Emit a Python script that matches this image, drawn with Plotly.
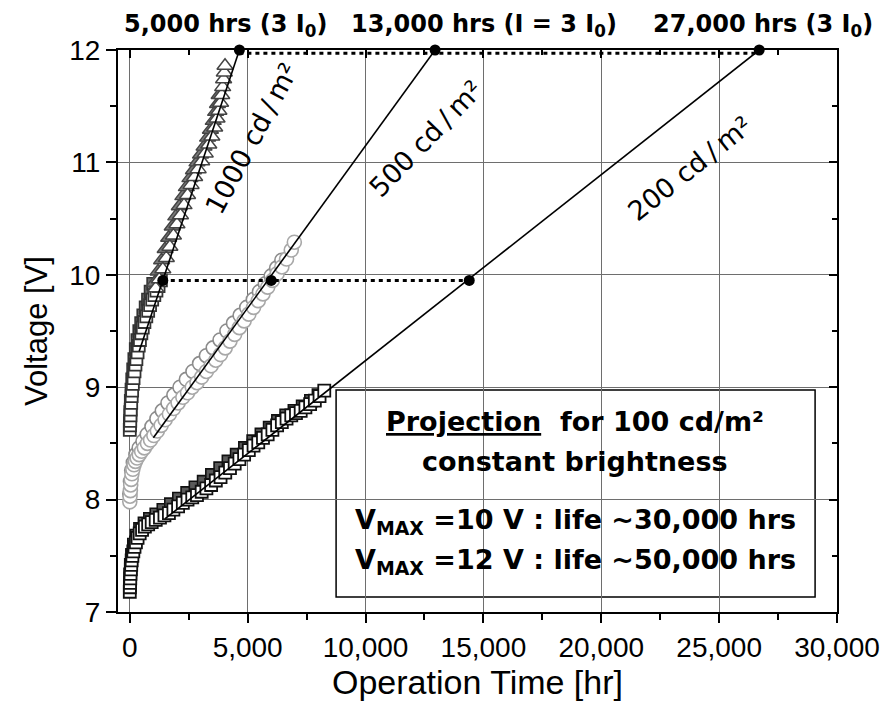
import plotly.graph_objects as go

# ---------------- data ----------------
# 1000 cd/m2 – lower part (squares)
t1000_sq = [0, 10, 20, 30, 40, 60, 80, 100, 130, 160, 200, 240, 280, 330, 380, 430, 490, 550,
            620, 700, 780, 860, 950, 1040, 1130, 1220, 1320]
v1000_sq = [8.62, 8.66, 8.70, 8.75, 8.80, 8.86, 8.92, 8.97, 9.03, 9.08, 9.14, 9.20, 9.25, 9.31,
            9.37, 9.42, 9.48, 9.53, 9.58, 9.63, 9.68, 9.73, 9.78, 9.82, 9.86, 9.90, 9.95]
# 1000 cd/m2 – second sample, lower part (grey squares)
t1000_sq2 = [0, 20, 40, 70, 100, 140, 190, 250, 320, 400, 480, 570, 670, 770, 880, 990]
v1000_sq2 = [8.68, 8.78, 8.88, 8.98, 9.07, 9.16, 9.25, 9.34, 9.42, 9.50, 9.57, 9.64, 9.71, 9.78,
             9.85, 9.92]
# 1000 cd/m2 – upper part (open triangles)
t1000_tri = [1100, 1250, 1400, 1550, 1700, 1850, 2000, 2150, 2300, 2450, 2600, 2750, 2900, 3050,
             3200, 3350, 3480, 3600, 3700, 3780, 3850, 3900, 3940, 3980, 4010, 4040]
v1000_tri = [9.88, 9.96, 10.05, 10.15, 10.25, 10.35, 10.45, 10.53, 10.62, 10.71, 10.80, 10.87,
             10.94, 11.01, 11.08, 11.16, 11.23, 11.31, 11.39, 11.46, 11.53, 11.60, 11.67, 11.74,
             11.80, 11.86]
# 1000 cd/m2 – second sample (grey filled triangles)
t1000_tri2 = [1050, 1200, 1350, 1500, 1650, 1800, 1950, 2100, 2250, 2400, 2550, 2700, 2850,
              3000, 3150, 3300, 3420, 3540, 3640, 3720, 3790]
v1000_tri2 = [9.93, 10.03, 10.13, 10.23, 10.33, 10.43, 10.52, 10.61, 10.70, 10.78, 10.86, 10.93,
              11.00, 11.07, 11.14, 11.22, 11.29, 11.37, 11.45, 11.52, 11.60]

# 500 cd/m2 (light grey open circles)
t500 = [0, 10, 25, 40, 60, 90, 130, 180, 240, 310, 400, 500, 620, 750, 880, 1020, 1170, 1330,
        1500, 1680, 1860, 2050, 2250, 2450, 2650, 2850, 3050, 3250, 3450, 3650, 3850, 4050, 4250,
        4450, 4650, 4850, 5050, 5250, 5450, 5650, 5850, 6050, 6250, 6450, 6650, 6850, 6980]
v500 = [7.98, 8.03, 8.08, 8.13, 8.18, 8.23, 8.27, 8.31, 8.34, 8.37, 8.40, 8.43, 8.46, 8.50, 8.53,
        8.57, 8.61, 8.66, 8.71, 8.76, 8.81, 8.86, 8.91, 8.95, 9.00, 9.04, 9.09, 9.14, 9.19, 9.24,
        9.29, 9.35, 9.41, 9.47, 9.53, 9.59, 9.65, 9.71, 9.77, 9.83, 9.89, 9.95, 10.01, 10.07,
        10.14, 10.22, 10.29]
# 500 cd/m2 – second sample (slightly darker circles, left edge of the band)
t500b = [0, 30, 80, 150, 260, 400, 560, 740, 940, 1150, 1380, 1620, 1870, 2130, 2400, 2680, 2960,
         3250, 3540, 3830, 4120, 4400, 4680, 4960, 5240, 5500, 5750, 6000, 6230, 6450]
v500b = [8.05, 8.16, 8.26, 8.33, 8.40, 8.46, 8.52, 8.58, 8.65, 8.72, 8.79, 8.86, 8.93, 9.00,
         9.07, 9.14, 9.21, 9.28, 9.35, 9.42, 9.50, 9.57, 9.64, 9.71, 9.78, 9.85, 9.92, 9.99,
         10.06, 10.13]

# 200 cd/m2 (black open squares)
t200 = [0, 5, 10, 20, 30, 45, 60, 80, 110, 150, 200, 260, 330, 420, 520, 640, 780, 930, 1100,
        1280, 1470, 1660, 1850, 2050, 2250, 2450, 2650, 2850, 3050, 3250, 3450, 3650, 3850, 4050,
        4250, 4450, 4650, 4850, 5050, 5250, 5450, 5650, 5850, 6050, 6250, 6450, 6650, 6850, 7050,
        7250, 7450, 7650, 7850, 8050, 8250]
v200 = [7.18, 7.22, 7.26, 7.30, 7.34, 7.38, 7.42, 7.46, 7.50, 7.54, 7.58, 7.62, 7.66, 7.70, 7.73,
        7.76, 7.78, 7.80, 7.82, 7.84, 7.86, 7.88, 7.91, 7.94, 7.97, 8.00, 8.02, 8.04, 8.07, 8.10,
        8.13, 8.17, 8.20, 8.24, 8.28, 8.32, 8.36, 8.40, 8.44, 8.48, 8.51, 8.55, 8.58, 8.62, 8.66,
        8.69, 8.72, 8.75, 8.77, 8.79, 8.82, 8.85, 8.88, 8.92, 8.97]
# 200 cd/m2 – second sample (dark grey filled squares)
t200b = [0, 15, 40, 90, 170, 280, 430, 620, 850, 1120, 1420, 1740, 2080, 2430, 2780, 3130, 3480,
         3830, 4180, 4530, 4880, 5230, 5580, 5930, 6280, 6630, 6980, 7330, 7680, 8000]
v200b = [7.24, 7.33, 7.42, 7.51, 7.60, 7.68, 7.74, 7.79, 7.83, 7.87, 7.91, 7.96, 8.01, 8.06,
         8.11, 8.16, 8.22, 8.28, 8.34, 8.40, 8.46, 8.52, 8.58, 8.64, 8.70, 8.75, 8.79, 8.83,
         8.88, 8.93]

# linear projections (start, end)
fit1000_t = [400, 4650]
fit1000_v = [9.32, 12.0]
fit500_t = [1000, 12950]
fit500_v = [8.55, 12.0]
fit200_t = [1500, 26700]
fit200_v = [7.83, 12.0]

# projection points
vmax12_t = [4650, 12950, 26700]
vmax12_v = [12.0, 12.0, 12.0]
vmax10_t = [1400, 6000, 14400]
vmax10_v = [9.95, 9.95, 9.95]
dotted12_t = [4650, 26700]
dotted12_v = [11.97, 11.97]
dotted10_t = [1400, 14400]
dotted10_v = [9.95, 9.95]

top_labels = ["5,000 hrs (3 I<sub>0</sub>)", "13,000 hrs (I = 3 I<sub>0</sub>)",
              "27,000 hrs (3 I<sub>0</sub>)"]
curve_labels = ["1000 cd\u2009/\u2009m²", "500 cd\u2009/\u2009m²", "200 cd\u2009/\u2009m²"]
box_lines = ["<u>Projection</u>\u00a0 for 100 cd/m²", "constant brightness",
             "V<sub>MAX</sub> =10 V : life ~30,000 hrs",
             "V<sub>MAX</sub> =12 V : life ~50,000 hrs"]

# ---------------- figure ----------------
# the page body has an 8 px margin, so the figure is 8 px smaller and its
# margins are expressed so that the plot area lands on page px 118..840 / 50..612
OFF = 8
W, H = 892 - OFF, 708 - OFF
L, T = 118 - OFF, 50 - OFF
R = W - (840 - OFF)
B = H - (612 - OFF)
PW, PH = W - L - R, H - T - B


def px(xp):   # page x pixel -> paper
    return (xp - OFF - L) / PW


def py(yp):   # page y pixel -> paper
    return (H - B - (yp - OFF)) / PH


fig = go.Figure()

fig.add_trace(go.Scatter(x=t200b, y=v200b, mode="markers",
                         marker=dict(symbol="square", size=12, color="#5a5a5a",
                                     line=dict(color="#111", width=1.6))))
fig.add_trace(go.Scatter(x=t200, y=v200, mode="markers",
                         marker=dict(symbol="square", size=12, color="white",
                                     line=dict(color="#111", width=1.8))))
fig.add_trace(go.Scatter(x=t500b, y=v500b, mode="markers",
                         marker=dict(symbol="circle", size=14, color="white",
                                     line=dict(color="#8c8c8c", width=1.6))))
fig.add_trace(go.Scatter(x=t500, y=v500, mode="markers",
                         marker=dict(symbol="circle", size=14, color="white",
                                     line=dict(color="#a8a8a8", width=1.6))))
fig.add_trace(go.Scatter(x=t1000_sq2, y=v1000_sq2, mode="markers",
                         marker=dict(symbol="square", size=12, color="#6a6a6a",
                                     line=dict(color="#333", width=1.6))))
fig.add_trace(go.Scatter(x=t1000_sq, y=v1000_sq, mode="markers",
                         marker=dict(symbol="square", size=12, color="white",
                                     line=dict(color="#333", width=1.8))))
fig.add_trace(go.Scatter(x=t1000_tri2, y=v1000_tri2, mode="markers",
                         marker=dict(symbol="triangle-up", size=14, color="#7a7a7a",
                                     line=dict(color="#444", width=1.4))))
fig.add_trace(go.Scatter(x=t1000_tri, y=v1000_tri, mode="markers",
                         marker=dict(symbol="triangle-up", size=14, color="white",
                                     line=dict(color="#444", width=1.5))))

for tt, vv in [(fit1000_t, fit1000_v), (fit500_t, fit500_v), (fit200_t, fit200_v)]:
    fig.add_trace(go.Scatter(x=tt, y=vv, mode="lines", line=dict(color="black", width=1.6)))

for tt, vv in [(dotted12_t, dotted12_v), (dotted10_t, dotted10_v)]:
    fig.add_trace(go.Scatter(x=tt, y=vv, mode="lines",
                             line=dict(color="black", width=3, dash="4px,4px")))

fig.add_trace(go.Scatter(x=vmax12_t + vmax10_t, y=vmax12_v + vmax10_v, mode="markers",
                         cliponaxis=False,
                         marker=dict(symbol="circle", size=11, color="black")))

# helper trace for mirrored (inside-tick) top / right axes
fig.add_trace(go.Scatter(x=[None], y=[None], xaxis="x2", yaxis="y2", mode="markers"))

tickfont = dict(family="Liberation Sans, Arial", size=28, color="black")

fig.update_layout(
    width=W, height=H,
    margin=dict(l=L, r=R, t=T, b=B),
    paper_bgcolor="white", plot_bgcolor="white",
    showlegend=False,
    xaxis=dict(range=[-500, 30000], tick0=0, dtick=5000, tickformat=",d",
               showline=True, linecolor="black", linewidth=2,
               ticks="outside", ticklen=9, tickwidth=2, tickcolor="black",
               showgrid=True, gridcolor="#6e6e6e", gridwidth=1, zeroline=False,
               tickfont=tickfont,
               minor=dict(dtick=2500, tick0=0, ticks="outside", ticklen=6, tickwidth=2,
                          tickcolor="black", showgrid=False),
               title=dict(text="Operation Time [hr]",
                          font=dict(family="Liberation Sans, Arial", size=34, color="black"),
                          standoff=3)),
    yaxis=dict(range=[7, 12], tick0=7, dtick=1,
               showline=True, linecolor="black", linewidth=2,
               ticks="outside", ticklen=10, tickwidth=2, tickcolor="black",
               showgrid=True, gridcolor="#6e6e6e", gridwidth=1, zeroline=False,
               tickfont=tickfont,
               minor=dict(dtick=0.5, tick0=7, ticks="outside", ticklen=6, tickwidth=2,
                          tickcolor="black", showgrid=False),
               title=dict(text="Voltage [V]",
                          font=dict(family="Liberation Sans, Arial", size=31, color="black"),
                          standoff=12)),
    xaxis2=dict(range=[-500, 30000], overlaying="x", side="top", anchor="y2",
                tick0=0, dtick=5000, showticklabels=False,
                showline=True, linecolor="black", linewidth=2,
                ticks="inside", ticklen=8, tickwidth=2, tickcolor="black",
                showgrid=False, zeroline=False,
                minor=dict(dtick=2500, tick0=0, ticks="inside", ticklen=5, tickwidth=2,
                           tickcolor="black", showgrid=False)),
    yaxis2=dict(range=[7, 12], overlaying="y", side="right", anchor="x2",
                tick0=7, dtick=1, showticklabels=False,
                showline=True, linecolor="black", linewidth=2,
                ticks="inside", ticklen=8, tickwidth=2, tickcolor="black",
                showgrid=False, zeroline=False,
                minor=dict(dtick=0.5, tick0=7, ticks="inside", ticklen=5, tickwidth=2,
                           tickcolor="black", showgrid=False)),
)

# projection text box
fig.add_shape(type="rect", xref="paper", yref="paper",
              x0=px(337), x1=px(818), y0=py(597), y1=py(390),
              fillcolor="white", line=dict(color="black", width=1.5), layer="between")

boldfont = dict(family="DejaVu Sans", size=27, color="black")
for txt, yc in zip(box_lines, [421, 461, 521, 561]):
    fig.add_annotation(text="<b>" + txt + "</b>", xref="paper", yref="paper",
                       x=px(577), y=py(yc), xanchor="center", yanchor="middle",
                       showarrow=False, font=boldfont)

for txt, xc in zip(top_labels, [226, 486, 766]):
    fig.add_annotation(text="<b>" + txt + "</b>", xref="paper", yref="paper",
                       x=px(xc), y=py(26), xanchor="center", yanchor="middle",
                       showarrow=False, font=dict(family="DejaVu Sans", size=24, color="black"))

for txt, (xc, yc, ang) in zip(curve_labels, [(252, 138, -62), (427, 138, -46), (692, 168, -38.5)]):
    fig.add_annotation(text=txt, xref="paper", yref="paper",
                       x=px(xc), y=py(yc), xanchor="center", yanchor="middle",
                       textangle=ang, showarrow=False,
                       font=dict(family="DejaVu Sans", size=27, color="black"))

fig.write_html("out.html")
